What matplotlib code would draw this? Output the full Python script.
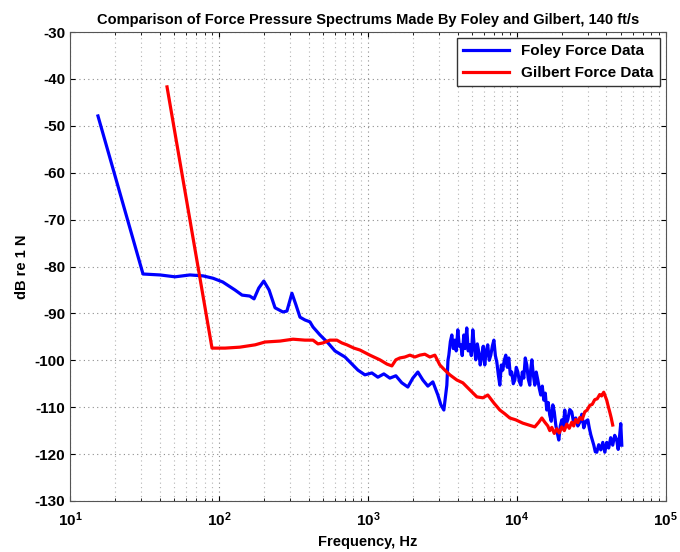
import math
import matplotlib
matplotlib.use('Agg')
import matplotlib.pyplot as plt
from matplotlib.ticker import FuncFormatter, LogLocator, NullFormatter

plt.rcParams['font.family'] = ['Liberation Sans', 'DejaVu Sans']
plt.rcParams['font.weight'] = 'bold'
plt.rcParams['axes.unicode_minus'] = False
plt.rcParams['mathtext.fontset'] = 'custom'
plt.rcParams['mathtext.bf'] = 'Liberation Sans:bold'
plt.rcParams['mathtext.rm'] = 'Liberation Sans:bold'

# Foley force data
foley_freq = [15.4, 30.9, 40.2, 50.7, 63.8, 78.2, 91.2, 106, 128, 143, 161, 172, 185, 200, 217,
              238, 269, 286, 309, 329, 350, 378, 408, 428, 477, 540, 601, 702, 782, 858, 955,
              1064, 1167, 1280, 1405, 1541, 1690, 1855, 2004, 2166, 2339, 2528, 2731, 2951,
              3091, 3237, 3390, 3450, 3497, 3580, 3662, 3750, 3836, 3920, 4017, 4110, 4207,
              4300, 4406, 4500, 4613, 4720, 4836, 4950, 5064, 5180, 5304, 5430, 5555, 5680,
              5817, 5950, 6092, 6230, 6380, 6530, 6690, 6850, 7015, 7180, 7345, 7510, 7690,
              7870, 8054, 8240, 8433, 8630, 8832, 9040, 9250, 9470, 9700, 9920, 10160, 10400,
              10640, 10890, 11140, 11400, 11670, 11940, 12220, 12400, 12620, 12900, 13210,
              13500, 13840, 14160, 14490, 14830, 15180, 15530, 15890, 16260, 16640, 17040,
              17450, 17850, 18270, 18700, 19140, 19600, 20040, 20500, 20990, 21480, 21980,
              22680, 23390, 24130, 24890, 25680, 26490, 27320, 28180, 29070, 29990, 30700,
              31410, 32140, 32890, 33650, 34440, 35500, 36640, 37800, 38990, 40180, 41400,
              42700, 44060, 45450, 46880, 47950, 49090, 49900, 50700]
foley_db = [-47.9, -81.6, -81.8, -82.2, -81.8, -82.0, -82.5, -83.3, -85.0, -86.1, -86.3, -86.9,
            -84.6, -83.1, -85.0, -88.8, -89.7, -89.5, -85.7, -88.2, -90.8, -91.4, -91.8, -92.9,
            -94.6, -96.3, -98.0, -99.3, -100.8, -102.1, -103.1, -102.7, -103.6, -102.9, -103.8,
            -103.3, -104.8, -105.7, -103.8, -102.5, -104.2, -105.5, -104.6, -107.4, -109.5,
            -110.6, -105.3, -100.0, -98.9, -96.0, -94.6, -97.5, -95.7, -98.0, -93.5, -97.0,
            -96.7, -99.0, -94.6, -97.5, -93.1, -98.0, -96.7, -99.0, -93.5, -97.0, -99.9, -96.5,
            -98.2, -101.0, -99.1, -97.0, -101.0, -98.0, -96.7, -100.0, -98.9, -97.0, -95.7,
            -99.0, -100.4, -103.0, -105.3, -101.0, -102.1, -100.0, -98.9, -101.5, -99.5,
            -103.0, -102.5, -105.0, -104.2, -101.5, -102.5, -104.5, -105.3, -102.5, -103.8,
            -99.5, -101.0, -104.0, -105.3, -102.0, -99.9, -103.0, -105.3, -102.5, -104.2,
            -106.0, -107.4, -105.5, -108.5, -107.0, -110.6, -109.0, -111.7, -113.0, -109.5,
            -111.0, -113.8, -115.5, -117.0, -114.0, -112.7, -114.5, -110.6, -113.5, -112.7,
            -110.5, -111.0, -113.5, -112.3, -114.0, -113.2, -111.5, -114.4, -113.0, -112.7,
            -114.5, -115.9, -117.0, -118.1, -119.5, -119.6, -118.0, -119.1, -117.5, -119.6,
            -117.5, -118.7, -116.5, -118.1, -116.0, -117.0, -119.0, -115.9, -113.5, -118.1]

# Gilbert force data
gilbert_freq = [44.8, 89.8, 110, 138, 175, 204, 257, 314, 378, 428, 462, 499, 556, 619, 669,
                723, 806, 883, 1031, 1204, 1342, 1449, 1541, 1640, 1772, 1915, 2067, 2233,
                2413, 2608, 2817, 3043, 3288, 3551, 3955, 4341, 4836, 5393, 5917, 6387, 7015,
                7690, 8301, 8970, 9840, 10970, 12040, 13210, 14050, 14730, 15420, 16150,
                16650, 17180, 17850, 18540, 19280, 20040, 20850, 21660, 22500, 23390, 24100,
                24890, 25700, 26490, 27500, 28590, 29700, 30900, 32100, 33360, 34700, 36030,
                37100, 38340, 39200, 40160, 41100, 42070, 43000, 44060]
gilbert_db = [-41.7, -97.4, -97.4, -97.2, -96.7, -96.1, -95.9, -95.5, -95.7, -95.7, -96.5,
              -96.3, -95.7, -95.7, -96.3, -96.7, -97.4, -97.8, -98.9, -99.9, -100.8, -101.2,
              -99.9, -99.5, -99.3, -98.9, -99.3, -98.9, -98.7, -99.3, -98.9, -101.0, -102.1,
              -103.1, -104.2, -104.8, -106.3, -107.8, -108.0, -107.4, -109.1, -110.6, -111.4,
              -112.3, -112.7, -113.4, -113.8, -114.2, -113.2, -112.3, -113.2, -114.0,
              -115.0, -114.3, -115.6, -114.6, -115.5, -114.2, -115.0, -113.6, -114.5, -113.2,
              -114.0, -112.6, -113.3, -112.2, -112.6, -111.0, -110.6, -109.6, -109.4, -108.4,
              -108.2, -107.3, -107.6, -106.8, -107.6, -108.5, -109.8, -111.0, -112.2, -113.8]

fig = plt.figure(figsize=(6.8, 5.52), dpi=100)
ax = fig.add_axes([0.103, 0.0924, 0.876, 0.8496])

ax.semilogx(foley_freq, foley_db, color='#0000ff', lw=2.3, label='Foley Force Data')
ax.semilogx(gilbert_freq, gilbert_db, color='#ff0000', lw=2.3, label='Gilbert Force Data')

ax.set_xlim(10, 1e5)
ax.set_ylim(-130, -30)
ax.set_yticks(range(-130, -29, 10))
ax.xaxis.set_major_locator(LogLocator(base=10, numticks=10))
ax.xaxis.set_minor_locator(LogLocator(base=10, subs=range(2, 10), numticks=20))
ax.xaxis.set_minor_formatter(NullFormatter())
ax.xaxis.set_major_formatter(FuncFormatter(lambda v, p: r'$\mathbf{10^{%d}}$' % round(math.log10(v))))

ax.grid(True, which='major', ls=(0, (1, 3)), color='#8c8c8c', lw=0.8)
ax.grid(True, which='minor', axis='x', ls=(0, (1, 3)), color='#b4b4b4', lw=0.8)
ax.tick_params(which='both', direction='in', top=True, right=True, labelsize=11)
ax.tick_params(axis='x', pad=7)
for s in ax.spines.values():
    s.set_color('#555555')

ax.set_xlabel('Frequency, Hz', fontsize=10.5, fontweight='bold')
ax.set_ylabel('dB re 1 N', fontsize=10.5, fontweight='bold')
ax.set_title('Comparison of Force Pressure Spectrums Made By Foley and Gilbert, 140 ft/s',
             fontsize=10.5, fontweight='bold')

leg = ax.legend(loc='upper right', fontsize=11, fancybox=False, framealpha=1,
                edgecolor='#333333', handlelength=3.0, borderaxespad=0.4)
for t in leg.get_texts():
    t.set_fontweight('bold')

fig.savefig('out.png', dpi=100)
